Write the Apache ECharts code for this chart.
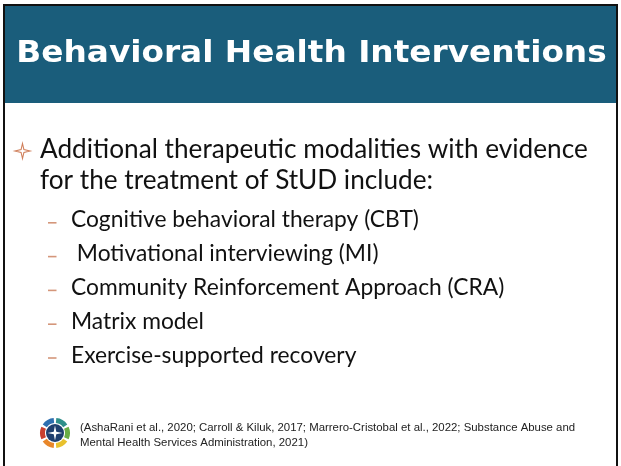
<!DOCTYPE html>
<html><head><meta charset="utf-8">
<script src="https://cdn.jsdelivr.net/npm/echarts@6/dist/echarts.min.js"></script>
<style>html,body{margin:0;padding:0;background:#fff}#c{width:621px;height:466px}</style>
</head><body><div id="c"></div>
<script>
const titleText = "Behavioral Health Interventions";
const mainBullet = ["Additional therapeutic modalities with evidence", "for the treatment of StUD include:"];
const subItems = ["Cognitive behavioral therapy (CBT)", " Motivational interviewing (MI)", "Community Reinforcement Approach (CRA)", "Matrix model", "Exercise-supported recovery"];
const citation = ["(AshaRani et al., 2020; Carroll & Kiluk, 2017; Marrero-Cristobal et al., 2022; Substance Abuse and", "Mental Health Services Administration, 2021)"];
const logoColors = ["#2f8f8a", "#6aad45", "#e8c12d", "#e8872a", "#c9402f", "#2e6fb0"];

const chart = echarts.init(document.getElementById('c'), null, {renderer: 'canvas'});
const els = [];
function star(cx, cy, R, r) {
  const pts = [];
  for (let k = 0; k < 8; k++) {
    const a = k * Math.PI / 4 - Math.PI / 2;
    const rr = (k % 2 === 0) ? R : r;
    pts.push([cx + rr * Math.cos(a), cy + rr * Math.sin(a)]);
  }
  return pts;
}
// frame
els.push({type:'rect', shape:{x:4,y:5,width:613,height:470}, style:{fill:'#fff', stroke:'#111', lineWidth:2}});
els.push({type:'rect', shape:{x:5,y:6,width:611,height:97}, style:{fill:'#1a5d7b'}});
els.push({type:'text', x:311.5, y:54, scaleX:1.11, style:{text:titleText, fill:'#fff', fontFamily:'DejaVu Sans', fontWeight:'bold', fontSize:29.5, align:'center', verticalAlign:'middle'}});
// main bullet star
els.push({type:'polygon', shape:{points:star(22.5,151,7.5,2)}, style:{fill:'none', stroke:'#d0805c', lineWidth:1.1}});
mainBullet.forEach((t,i)=>{
  els.push({type:'text', x:40, y:150 + i*31, style:{text:t, fill:'#111', fontFamily:'Lato', fontSize:26.2, verticalAlign:'middle'}});
});
subItems.forEach((t,i)=>{
  const y = 220 + i*33.8;
  els.push({type:'rect', shape:{x:48,y:y+2,width:8.5,height:1.6}, style:{fill:'#d4967a'}});
  els.push({type:'text', x:71, y:y, style:{text:t, fill:'#111', fontFamily:'Lato', fontSize:22.8, verticalAlign:'middle'}});
});
// logo
const cx=55, cy=433, r0=9, r1=15;
logoColors.forEach((c,i)=>{
  const a0 = (-90 + i*60 + 5) * Math.PI/180, a1 = (-90 + (i+1)*60 - 5) * Math.PI/180;
  els.push({type:'sector', shape:{cx:cx, cy:cy, r0:r0+1, r:r1, startAngle:a0, endAngle:a1}, style:{fill:c}});
});
els.push({type:'circle', shape:{cx:cx, cy:cy, r:9}, style:{fill:'#1f3f6e'}});
els.push({type:'polygon', shape:{points:star(cx,cy,7.5,1.8)}, style:{fill:'#fff'}});
citation.forEach((t,i)=>{
  els.push({type:'text', x:80, y:428 + i*14.5, style:{text:t, fill:'#222', fontFamily:'Liberation Sans', fontSize:11.4, verticalAlign:'middle'}});
});
chart.setOption({animation:false, graphic:{elements:els}});
</script></body></html>
